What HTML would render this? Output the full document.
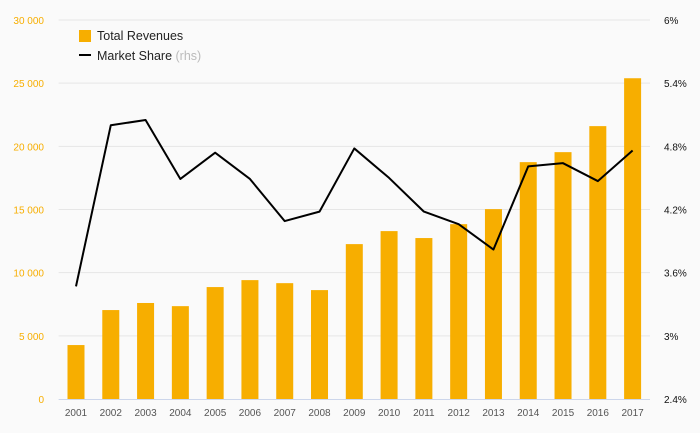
<!DOCTYPE html>
<html><head><meta charset="utf-8"><style>
body{margin:0;background:#fafafa;}
svg{display:block;font-family:"Liberation Sans",sans-serif;}
</style></head><body>
<svg id="chart" width="700" height="433">
<rect width="700" height="433" fill="#fafafa"/>
<g id="grid"></g><g id="bars"></g><g id="line"></g><g id="axes"></g>
<g>
 <rect x="79" y="30" width="12" height="12" fill="#f7ae00"/>
 <text x="97" y="40" font-size="12.5" fill="#222">Total Revenues</text>
 <line x1="79" y1="55" x2="91" y2="55" stroke="#000" stroke-width="2"/>
 <text x="97" y="60" font-size="12.5" fill="#222">Market Share <tspan fill="#bbb">(rhs)</tspan></text>
</g>
</svg>
<script>
const years=["2001","2002","2003","2004","2005","2006","2007","2008","2009","2010","2011","2012","2013","2014","2015","2016","2017"];
const revenues=[4270,7040,7600,7350,8860,9410,9170,8620,12260,13290,12740,13840,15030,18750,19540,21600,25390];
const share=[3.47,5.00,5.05,4.49,4.74,4.49,4.09,4.18,4.78,4.50,4.18,4.06,3.82,4.61,4.64,4.47,4.76];
const leftTicks=[0,5000,10000,15000,20000,25000,30000];
const rightTicks=[2.4,3,3.6,4.2,4.8,5.4,6];
const rightLabels=["2.4%","3%","3.6%","4.2%","4.8%","5.4%","6%"];
const NS="http://www.w3.org/2000/svg";
const L=58.6,R=650,T=20,B=399;
const step=(R-L)/years.length;
const xc=i=>L+step*(i+0.5);
const yl=v=>B-(v/30000)*(B-T);
const yr=v=>B-((v-2.4)/3.6)*(B-T);
function mk(tag,attrs,parent,txt){const e=document.createElementNS(NS,tag);for(const k in attrs)e.setAttribute(k,attrs[k]);if(txt!==undefined)e.textContent=txt;document.getElementById(parent).appendChild(e);return e;}
leftTicks.forEach((t,i)=>{
 if(i>0){const g=mk('line',{x1:L,x2:R,y1:yl(t),y2:yl(t),stroke:'#e6e6e6','stroke-width':1},'grid');
 
 }
 const s=t===0?"0":String(t).replace(/\B(?=(\d{3})+(?!\d))/g," ");
 const e=mk('text',{x:44,y:yl(t)+4,'text-anchor':'end','font-size':10,fill:'#f7ae00'},'axes',s);
 
 
});
rightTicks.forEach((t,i)=>{
 const e=mk('text',{x:664,y:yr(t)+4,'font-size':10,fill:'#111'},'axes',rightLabels[i]);
 
 
});
const ax=mk('line',{x1:L,x2:R,y1:B+0.5,y2:B+0.5,stroke:'#ccd6eb','stroke-width':1},'axes');


years.forEach((y,i)=>{
 const e=mk('text',{x:xc(i),y:416,'text-anchor':'middle','font-size':10,fill:'#555'},'axes',y);
 
 
 const b=mk('rect',{x:xc(i)-8.5,y:yl(revenues[i]),width:17,height:B-yl(revenues[i]),fill:'#f7ae00'},'bars');
 
 
});
const p=mk('polyline',{points:share.map((v,i)=>xc(i)+','+yr(v)).join(' '),fill:'none',stroke:'#000','stroke-width':2,'stroke-linejoin':'round'},'line');


</script>
</body></html>
